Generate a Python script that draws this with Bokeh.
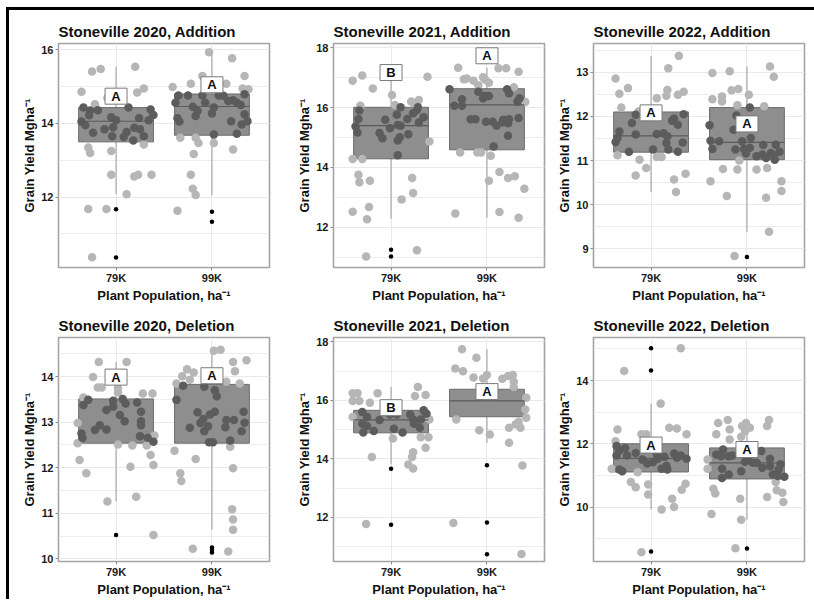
from bokeh.plotting import figure
from bokeh.layouts import column, row
from bokeh.models import Range1d, SingleIntervalTicker, FixedTicker
from bokeh.core.properties import value
from bokeh.embed import file_html
from bokeh.resources import INLINE

FONT = "Liberation Sans"

GROUPS = ["79K", "99K"]
TITLES = ["Stoneville 2020, Addition", "Stoneville 2021, Addition", "Stoneville 2022, Addition",
          "Stoneville 2020, Deletion", "Stoneville 2021, Deletion", "Stoneville 2022, Deletion"]
Y_LABEL = "Grain Yield Mgha\u207b\u00b9"
X_LABEL = "Plant Population, ha\u207b\u00b9"

# axis ranges and tick steps per panel
Y_RANGE = [(10.09, 16.17), (10.66, 18.14), (8.58, 13.65), (9.94, 14.86), (10.49, 18.15), (8.28, 15.36)]
Y_STEP = [2, 2, 1, 1, 2, 2]

# box statistics per panel: [79K, 99K]
Q1 = [[13.50, 13.68], [14.29, 14.59], [11.19, 11.02], [12.54, 12.54], [14.89, 15.44], [11.11, 10.89]]
MED = [[14.06, 14.46], [15.40, 16.09], [11.56, 11.41], [float("nan"), float("nan")], [15.33, 15.98], [11.54, 11.40]]
Q3 = [[14.43, 14.80], [16.01, 16.63], [12.10, 12.20], [13.51, 13.83], [15.66, 16.38], [12.00, 11.87]]
LO = [[12.08, 12.05], [12.29, 12.32], [10.29, 9.39], [11.26, 10.64], [13.81, 14.55], [9.92, 9.60]]
HI = [[15.54, 15.93], [17.07, 17.33], [13.37, 13.13], [14.32, 14.59], [16.46, 17.75], [13.27, 12.75]]
OUTLIERS = [[[11.67, 10.36], [11.60, 11.33]],
            [[11.25, 11.03], []],
            [[], [8.82]],
            [[10.52], [10.25, 10.20, 10.14]],
            [[13.66, 11.75], [13.78, 11.82, 10.74]],
            [[15.02, 14.32, 8.60], [8.69]]]
LETTERS = [["A", "A"], ["B", "A"], ["A", "A"], ["A", "A"], ["B", "A"], ["A", "A"]]
LETTER_Y = [[14.74, 15.05], [17.17, 17.73], [12.08, 11.83], [13.99, 14.02], [15.75, 16.30], [11.96, 11.82]]

# jittered observations: (horizontal jitter offset, grain yield)
S20A_79 = [(-0.36, 14.86), (-0.25, 15.41), (-0.16, 15.48), (0.20, 15.54), (0.29, 14.95), (0.22, 14.84),
           (0.07, 14.63), (-0.09, 14.70), (-0.22, 14.52), (-0.34, 14.43), (-0.27, 14.35), (-0.28, 14.22),
           (-0.36, 14.05), (-0.32, 13.95), (-0.24, 13.75), (-0.19, 14.36), (-0.12, 13.84), (-0.05, 14.17),
           (0.00, 14.09), (-0.03, 13.90), (-0.04, 13.65), (0.13, 14.43), (0.11, 13.77), (0.18, 13.54),
           (0.19, 13.88), (0.24, 14.15), (0.25, 13.84), (0.29, 13.65), (0.36, 14.38), (0.39, 14.23),
           (0.34, 14.09), (0.29, 13.43), (0.08, 13.63), (-0.29, 13.35), (-0.27, 13.20), (-0.05, 13.25),
           (-0.05, 12.61), (0.19, 12.56), (0.23, 12.61), (0.37, 12.61), (0.11, 12.08), (-0.29, 11.68),
           (-0.10, 11.68), (-0.25, 10.37)]
S20A_99 = [(-0.03, 15.93), (0.21, 15.77), (0.34, 15.29), (-0.10, 15.29), (-0.22, 15.08), (-0.41, 14.99),
           (0.15, 15.08), (0.32, 14.95), (0.38, 14.93), (0.34, 14.79), (-0.38, 14.56), (-0.35, 14.76),
           (-0.25, 14.76), (-0.20, 14.45), (-0.15, 14.34), (-0.17, 14.20), (-0.36, 14.14), (-0.34, 14.05),
           (-0.07, 14.56), (0.02, 14.43), (0.00, 14.27), (0.07, 14.76), (0.12, 14.75), (0.17, 14.61),
           (0.22, 14.63), (0.26, 14.56), (0.30, 14.50), (0.34, 14.25), (0.37, 14.06), (0.31, 13.97),
           (0.26, 13.72), (0.02, 13.70), (-0.10, 14.76), (0.20, 14.06), (-0.33, 13.61), (-0.17, 13.61),
           (-0.14, 13.47), (0.02, 13.47), (-0.19, 13.17), (0.22, 13.29), (-0.22, 12.61), (-0.20, 12.23),
           (-0.17, 12.06), (-0.36, 11.63)]
S21A_79 = [(-0.40, 16.90), (-0.30, 17.07), (-0.19, 16.64), (0.01, 16.42), (0.21, 16.20), (0.29, 16.25),
           (0.38, 17.03), (0.24, 16.14), (0.40, 14.87), (-0.40, 14.28), (-0.34, 13.76), (-0.33, 13.51),
           (-0.22, 13.56), (0.22, 13.65), (0.23, 13.15), (0.11, 12.93), (-0.40, 12.52), (-0.23, 12.68),
           (-0.25, 12.27), (0.27, 11.24), (-0.26, 11.03), (-0.32, 16.06), (-0.33, 15.90), (-0.34, 15.62),
           (-0.37, 15.37), (-0.35, 15.17), (-0.30, 14.28), (-0.06, 15.59), (-0.12, 15.15), (-0.09, 14.98),
           (-0.01, 15.31), (0.04, 16.09), (0.06, 15.76), (0.10, 16.01), (0.07, 15.42), (0.10, 15.39),
           (0.07, 14.90), (0.09, 15.01), (0.07, 14.41), (0.17, 15.62), (0.18, 15.11), (0.23, 15.81),
           (0.27, 15.92), (0.28, 16.01), (0.29, 15.50), (0.34, 15.68)]
S21A_99 = [(-0.30, 17.33), (-0.24, 16.95), (-0.21, 16.97), (-0.14, 16.90), (-0.04, 17.01), (-0.02, 16.94),
           (0.02, 16.83), (-0.09, 16.75), (0.12, 17.31), (0.20, 17.31), (0.33, 17.20), (0.28, 16.68),
           (-0.39, 16.61), (0.40, 16.19), (-0.28, 14.50), (-0.10, 14.50), (-0.06, 14.50), (0.04, 14.39),
           (0.02, 13.56), (0.13, 13.85), (0.22, 13.65), (0.29, 13.71), (0.39, 13.29), (-0.33, 12.46),
           (0.13, 12.51), (0.33, 12.32), (-0.34, 16.06), (-0.26, 16.28), (-0.26, 16.06), (-0.17, 15.61),
           (-0.12, 15.61), (-0.09, 16.53), (-0.04, 16.31), (-0.02, 16.39), (0.02, 16.39), (-0.01, 15.53),
           (0.06, 15.53), (0.10, 15.39), (0.07, 14.70), (0.21, 16.61), (0.23, 16.48), (0.34, 16.31),
           (0.32, 16.20), (0.17, 15.59), (0.22, 15.48), (0.23, 15.61), (0.33, 15.65), (0.22, 15.06),
           (0.16, 15.50)]
S22A_79 = [(-0.37, 12.86), (-0.33, 12.51), (-0.24, 12.64), (-0.31, 12.20), (0.18, 13.09), (0.29, 13.37),
           (0.17, 12.60), (0.16, 12.47), (0.06, 12.41), (0.28, 12.49), (0.34, 12.56), (-0.12, 11.02),
           (-0.16, 10.66), (-0.05, 10.83), (0.06, 11.08), (0.11, 11.08), (0.24, 10.57), (0.26, 10.29),
           (0.36, 10.70), (-0.37, 11.42), (-0.35, 11.12), (-0.33, 11.66), (-0.35, 11.51), (-0.23, 11.20),
           (-0.20, 11.85), (-0.16, 12.04), (-0.13, 12.11), (-0.16, 11.59), (0.02, 11.25), (0.06, 11.60),
           (0.13, 11.62), (0.17, 11.55), (0.18, 11.25), (0.22, 11.90), (0.24, 11.95), (0.28, 11.81),
           (0.16, 11.40), (0.28, 11.20), (0.34, 12.05), (0.33, 11.41)]
S22A_99 = [(-0.36, 12.98), (-0.18, 13.02), (-0.26, 12.45), (-0.26, 12.34), (-0.36, 12.39), (-0.16, 12.59),
           (-0.09, 12.62), (0.02, 12.49), (0.03, 12.20), (-0.10, 12.25), (0.18, 12.23), (0.24, 13.13),
           (0.28, 12.90), (-0.38, 10.53), (-0.25, 10.81), (-0.21, 10.20), (-0.10, 10.80), (-0.08, 11.00),
           (0.10, 10.80), (0.20, 10.16), (0.21, 10.83), (0.36, 10.53), (0.36, 10.31), (0.23, 9.39),
           (-0.13, 8.84), (-0.39, 11.80), (-0.38, 11.45), (-0.36, 11.26), (-0.29, 11.44), (-0.14, 11.70),
           (-0.12, 11.25), (-0.11, 12.02), (-0.05, 11.44), (-0.03, 11.26), (0.03, 11.29), (0.04, 11.51),
           (-0.01, 11.16), (0.10, 11.10), (0.16, 11.14), (0.17, 11.35), (0.20, 11.06), (0.25, 11.17),
           (0.28, 11.12), (0.29, 11.02), (0.34, 11.20), (0.30, 11.36)]
S20D_79 = [(-0.18, 14.32), (0.11, 14.32), (-0.24, 13.99), (-0.19, 13.76), (-0.15, 13.76), (0.02, 13.75),
           (0.02, 13.65), (0.28, 13.63), (0.38, 13.63), (-0.40, 12.98), (-0.40, 12.54), (-0.38, 12.17),
           (-0.31, 11.88), (0.02, 12.51), (0.17, 12.49), (0.32, 12.49), (0.40, 12.71), (0.39, 12.57),
           (0.36, 12.28), (0.39, 12.06), (0.15, 12.02), (-0.09, 11.26), (0.21, 11.36), (0.39, 10.52),
           (-0.34, 13.54), (-0.34, 13.38), (-0.29, 13.49), (-0.36, 12.75), (-0.35, 12.65), (-0.22, 12.83),
           (-0.17, 12.93), (-0.10, 12.84), (-0.10, 13.27), (-0.03, 13.34), (-0.03, 13.47), (0.07, 13.51),
           (0.04, 13.16), (0.09, 13.02), (0.10, 13.41), (0.22, 13.43), (0.26, 13.23), (0.26, 13.02),
           (0.26, 12.93), (0.25, 12.69), (0.33, 12.66)]
S20D_99 = [(0.02, 14.57), (0.09, 14.59), (0.22, 14.32), (0.36, 14.36), (0.24, 14.12), (-0.26, 14.16),
           (-0.19, 14.09), (-0.31, 14.01), (-0.23, 13.93), (-0.37, 13.85), (0.15, 13.89), (0.29, 13.85),
           (-0.39, 12.37), (-0.33, 11.88), (-0.32, 11.71), (-0.17, 12.19), (0.19, 12.46), (0.22, 11.99),
           (0.21, 11.09), (0.22, 10.86), (0.22, 10.64), (-0.20, 10.22), (0.17, 10.16), (-0.37, 13.49),
           (-0.30, 13.80), (-0.23, 12.88), (-0.15, 13.22), (-0.09, 13.07), (-0.12, 12.98), (-0.08, 12.80),
           (-0.04, 12.91), (-0.08, 13.78), (0.03, 13.70), (0.05, 13.57), (-0.02, 13.17), (0.03, 13.23),
           (-0.03, 12.56), (0.01, 12.56), (0.15, 13.05), (0.23, 13.05), (0.14, 12.89), (0.19, 12.60),
           (0.31, 12.80), (0.33, 13.23), (0.34, 12.99)]
S21D_79 = [(-0.40, 16.24), (-0.35, 16.24), (-0.40, 15.98), (-0.33, 15.98), (-0.22, 15.92), (-0.14, 16.24),
           (0.28, 16.46), (0.25, 16.15), (0.36, 16.18), (0.40, 15.35), (-0.20, 14.06), (0.02, 14.70),
           (0.31, 14.74), (0.39, 14.74), (0.23, 14.23), (0.22, 14.06), (0.36, 14.38), (0.18, 13.81),
           (0.23, 13.67), (-0.26, 11.77), (-0.40, 15.43), (-0.30, 15.60), (-0.30, 15.20), (-0.29, 14.90),
           (-0.25, 15.43), (-0.25, 15.12), (-0.18, 14.95), (-0.12, 15.33), (-0.01, 15.52), (0.03, 15.03),
           (0.06, 15.52), (0.12, 14.90), (0.20, 15.52), (0.23, 15.35), (0.24, 15.20), (0.30, 15.06),
           (0.31, 15.35), (0.34, 15.66), (0.37, 15.54), (-0.07, 15.63)]
S21D_99 = [(-0.26, 17.75), (-0.11, 17.46), (-0.33, 17.09), (-0.25, 17.00), (-0.14, 16.78), (-0.04, 16.75),
           (0.00, 16.87), (0.16, 16.74), (0.22, 16.83), (0.27, 16.87), (0.28, 16.64), (0.28, 16.46),
           (0.41, 16.09), (0.40, 15.69), (0.41, 15.41), (0.33, 15.27), (0.30, 15.18), (0.23, 15.06),
           (0.35, 15.06), (0.23, 14.55), (0.03, 14.83), (-0.08, 14.98), (-0.32, 15.35), (0.37, 13.77),
           (-0.35, 11.81), (0.36, 10.75)]
S22D_79 = [(0.31, 15.02), (-0.28, 14.30), (0.10, 13.27), (0.19, 12.51), (-0.35, 12.45), (0.37, 12.30),
           (-0.10, 12.30), (-0.05, 12.30), (-0.37, 12.08), (-0.41, 11.21), (-0.21, 10.79), (-0.16, 10.63),
           (-0.03, 10.71), (-0.03, 10.40), (0.11, 9.92), (0.22, 10.26), (0.24, 10.00), (0.32, 10.55),
           (0.36, 10.74), (-0.10, 8.57), (0.27, 12.48), (-0.36, 11.93), (-0.33, 11.79), (-0.27, 11.87),
           (-0.36, 11.63), (-0.25, 11.63), (-0.33, 11.19), (-0.30, 11.13), (-0.16, 11.71), (-0.14, 11.10),
           (-0.09, 11.50), (-0.04, 11.38), (0.02, 11.42), (0.06, 11.66), (0.07, 11.53), (0.11, 11.21),
           (0.14, 11.59), (0.16, 11.31), (0.24, 11.69), (0.27, 11.56), (0.31, 11.63), (0.37, 11.53),
           (0.17, 11.19)]
S22D_99 = [(-0.30, 12.66), (-0.20, 12.75), (-0.32, 12.30), (-0.18, 12.14), (-0.18, 12.45), (-0.05, 12.56),
           (-0.02, 12.40), (-0.01, 12.66), (0.03, 12.51), (-0.06, 12.22), (0.23, 12.75), (0.21, 12.56),
           (-0.41, 11.50), (-0.41, 11.21), (-0.35, 10.58), (-0.33, 10.43), (-0.37, 9.78), (-0.07, 10.26),
           (-0.06, 9.60), (0.21, 10.32), (0.30, 10.79), (0.31, 10.53), (0.37, 10.45), (0.38, 10.16),
           (-0.12, 8.70), (0.39, 10.96), (-0.32, 11.66), (-0.27, 11.61), (-0.26, 11.21), (-0.26, 10.92),
           (-0.19, 11.61), (-0.15, 11.63), (-0.19, 11.03), (-0.25, 11.82), (-0.06, 11.13), (-0.02, 11.43),
           (0.01, 11.50), (0.06, 11.40), (0.10, 11.40), (0.15, 11.77), (0.16, 11.24), (0.24, 11.53),
           (0.24, 11.29), (0.27, 11.03), (0.35, 11.35), (0.33, 11.19), (0.32, 10.98)]

POINTS = [(S20A_79, S20A_99), (S21A_79, S21A_99), (S22A_79, S22A_99),
          (S20D_79, S20D_99), (S21D_79, S21D_99), (S22D_79, S22D_99)]

BOX_WIDTH = 0.78
LIGHT = "#b6b6b6"
DARK = "#5c5c5c"
BOX_FILL = "#8e8e8e"
BOX_LINE = "#6c6c6c"
GRID = "#e9e9e9"

# layout: (min_border_left, min_border_right) per column, (top, bottom) per row
COL_BORDERS = [(49, 16), (48, 4), (45, 10)]
ROW_BORDERS = [(33, 40), (30, 36)]


def make_panel(i):
    ml, mr = COL_BORDERS[i % 3]
    mt, mb = ROW_BORDERS[i // 3]
    p = figure(frame_width=211, frame_height=224,
               x_range=Range1d(0.4, 2.6), y_range=Range1d(*Y_RANGE[i]),
               output_backend="svg", toolbar_location=None, title=TITLES[i],
               min_border_left=ml, min_border_right=mr, min_border_top=mt, min_border_bottom=mb)
    p.background_fill_color = "white"
    p.border_fill_color = "white"
    p.outline_line_color = "#a4a4a4"
    p.outline_line_width = 1.6
    p.title.text_font = FONT
    p.title.text_font_size = "15px"
    p.title.text_font_style = "bold"
    p.title.text_color = "#111111"
    p.title.align = "left"
    p.title.standoff = 8

    p.xaxis.ticker = FixedTicker(ticks=[1, 2])
    p.xaxis.major_label_overrides = {1: GROUPS[0], 2: GROUPS[1]}
    p.yaxis.ticker = SingleIntervalTicker(interval=Y_STEP[i], num_minor_ticks=2)
    p.xgrid.ticker = FixedTicker(ticks=[1, 2])
    for ax in (p.xaxis[0], p.yaxis[0]):
        ax.axis_line_color = None
        ax.major_tick_line_color = "#8a8a8a"
        ax.major_tick_out = 3
        ax.major_tick_in = 0
        ax.minor_tick_line_color = None
        ax.major_label_text_font = FONT
        ax.major_label_text_font_size = "11px"
        ax.major_label_text_font_style = "bold"
        ax.major_label_text_color = "#1a1a1a"
        ax.major_label_standoff = 1
        ax.axis_label_text_font = FONT
        ax.axis_label_text_font_size = "13px"
        ax.axis_label_text_font_style = "bold"
        ax.axis_label_text_color = "#111111"
        ax.axis_label_standoff = 1
    p.xaxis.axis_label = X_LABEL
    p.yaxis.axis_label = Y_LABEL
    p.xgrid.grid_line_color = GRID
    p.ygrid.grid_line_color = GRID
    p.ygrid.minor_grid_line_color = GRID
    p.ygrid.minor_grid_line_width = 0.8

    cx = [1, 2]
    # whiskers
    p.segment(x0=cx, x1=cx, y0=Q3[i], y1=HI[i], line_color="#9a9a9a", line_width=1)
    p.segment(x0=cx, x1=cx, y0=Q1[i], y1=LO[i], line_color="#9a9a9a", line_width=1)
    # boxes
    p.vbar(x=cx, width=BOX_WIDTH, top=Q3[i], bottom=Q1[i], fill_color=BOX_FILL,
           line_color=BOX_LINE, line_width=1)
    # jittered points
    lx, ly, dx, dy = [], [], [], []
    for g, pts in enumerate(POINTS[i]):
        for off, yv in pts:
            inside = (Q1[i][g] - 0.005 <= yv <= Q3[i][g] + 0.005) and abs(off) <= BOX_WIDTH / 2
            if inside:
                dx.append(cx[g] + off); dy.append(yv)
            else:
                lx.append(cx[g] + off); ly.append(yv)
    p.scatter(lx, ly, size=8.5, fill_color=LIGHT, line_color=None)
    p.scatter(dx, dy, size=8.5, fill_color=DARK, line_color=None)
    # medians
    mx0m, mx1m, mym = [], [], []
    for g in range(2):
        if MED[i][g] == MED[i][g]:
            mx0m.append(cx[g] - BOX_WIDTH / 2); mx1m.append(cx[g] + BOX_WIDTH / 2); mym.append(MED[i][g])
    if mym:
        p.segment(x0=mx0m, x1=mx1m, y0=mym, y1=mym, line_color="#5a5a5a", line_width=1.2)
    # outliers
    ox, oy = [], []
    for g in range(2):
        for v in OUTLIERS[i][g]:
            ox.append(cx[g]); oy.append(v)
    if ox:
        p.scatter(ox, oy, size=4.5, fill_color="black", line_color=None)
    # significance letters
    p.rect(x=cx, y=LETTER_Y[i], width=22, height=16, width_units="screen", height_units="screen",
           fill_color="white", line_color="#7a7a7a", line_width=1)
    p.text(x=cx, y=LETTER_Y[i], text=LETTERS[i], text_font=value(FONT), text_font_style="bold",
           text_font_size="13px", text_align="center", text_baseline="middle", text_color="#111111")
    return p


panels = [make_panel(i) for i in range(6)]
layout = column(row(*panels[:3], spacing=0), row(*panels[3:], spacing=0), spacing=0,
                styles={"border-top": "3px solid black", "border-left": "3px solid black",
                        "margin-left": "6px", "margin-top": "7px"})

open("out.html", "w").write(file_html(layout, INLINE))
